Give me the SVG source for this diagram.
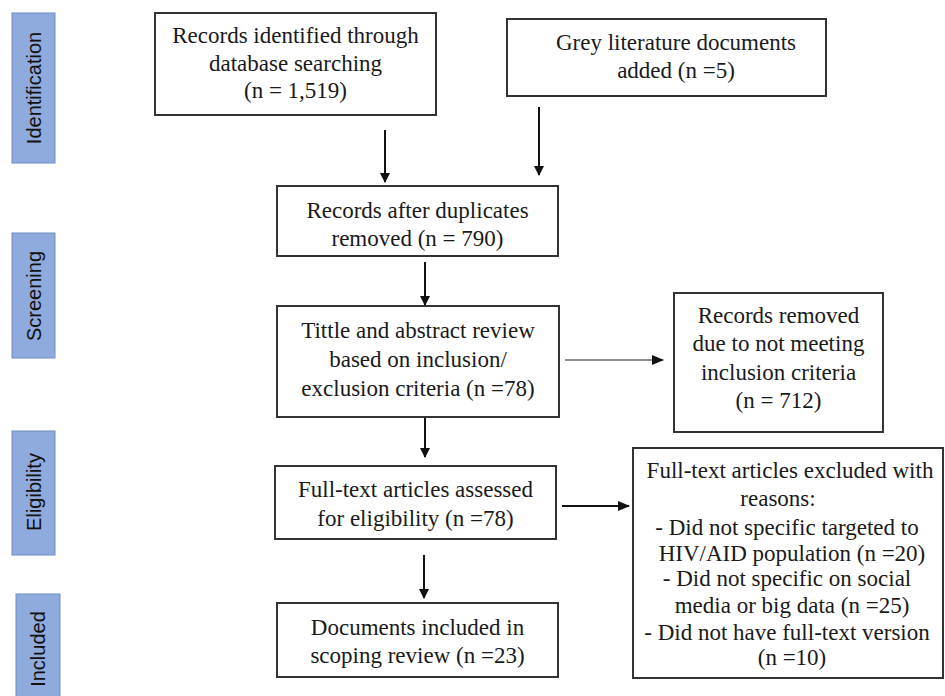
<svg xmlns="http://www.w3.org/2000/svg" width="945" height="696" viewBox="0 0 945 696">
<style>
.phase{fill:#8faadc;stroke:#6f8cc4;stroke-width:1}
.pt{font-family:"Liberation Sans",Arial,sans-serif;font-size:20px;fill:#111;text-anchor:middle;dominant-baseline:central}
.box{fill:#fff;stroke:#333;stroke-width:2}
.t{font-family:"Liberation Serif","Times New Roman",serif;font-size:23px;fill:#1a1a1a;text-anchor:middle}
.c{stroke:#111;stroke-width:2;fill:none}
.thin{stroke:#222;stroke-width:1.2;fill:none}
</style>
<defs>
<marker id="ah" markerWidth="10" markerHeight="10" refX="9" refY="5" orient="auto" markerUnits="userSpaceOnUse">
<path d="M0,0 L10,5 L0,10 Z" fill="#111"/>
</marker>
<marker id="ah2" markerWidth="12" markerHeight="12" refX="11" refY="6" orient="auto" markerUnits="userSpaceOnUse">
<path d="M0,1 L12,6 L0,11 Z" fill="#111"/>
</marker>
</defs>
<rect width="945" height="696" fill="#fff"/>

<g id="phase-identification"><rect class="phase" x="12" y="13" width="43" height="150"/><text class="pt" transform="translate(34,88) rotate(-90)">Identification</text></g>
<g id="phase-screening"><rect class="phase" x="12" y="233" width="43" height="125"/><text class="pt" transform="translate(34,296) rotate(-90)">Screening</text></g>
<g id="phase-eligibility"><rect class="phase" x="12" y="431" width="43" height="124"/><text class="pt" transform="translate(34,492) rotate(-90)">Eligibility</text></g>
<g id="phase-included"><rect class="phase" x="16" y="594" width="44" height="110"/><text class="pt" transform="translate(38,649) rotate(-90)">Included</text></g>

<g id="n-records">
<rect class="box" x="155" y="13" width="281" height="102"/>
<text class="t" x="295.5" y="43">Records identified through</text>
<text class="t" x="295.5" y="71">database searching</text>
<text class="t" x="295.5" y="98">(n = 1,519)</text>
</g>
<g id="n-grey">
<rect class="box" x="507" y="19" width="319" height="77"/>
<text class="t" x="676" y="50">Grey literature documents</text>
<text class="t" x="676" y="78">added (n =5)</text>
</g>
<g id="n-dedup">
<rect class="box" x="277" y="186" width="281" height="70"/>
<text class="t" x="417.5" y="218">Records after duplicates</text>
<text class="t" x="417.5" y="246">removed (n = 790)</text>
</g>
<g id="n-title">
<rect class="box" x="277" y="306" width="282" height="111"/>
<text class="t" x="418" y="338">Tittle and abstract review</text>
<text class="t" x="418" y="367">based on inclusion/</text>
<text class="t" x="418" y="396">exclusion criteria (n =78)</text>
</g>
<g id="n-removed">
<rect class="box" x="674" y="293" width="209" height="139"/>
<text class="t" x="778.5" y="323">Records removed</text>
<text class="t" x="778.5" y="351">due to not meeting</text>
<text class="t" x="778.5" y="380">inclusion criteria</text>
<text class="t" x="778.5" y="408">(n = 712)</text>
</g>
<g id="n-fulltext">
<rect class="box" x="275" y="466" width="281" height="73"/>
<text class="t" x="415.5" y="497">Full-text articles assessed</text>
<text class="t" x="415.5" y="526">for eligibility (n =78)</text>
</g>
<g id="n-excluded">
<rect class="box" x="633" y="448" width="310" height="230"/>
<text class="t" x="790" y="478">Full-text articles excluded with</text>
<text class="t" x="778" y="506">reasons:</text>
<text class="t" x="787" y="535">- Did not specific targeted to</text>
<text class="t" x="792" y="561">HIV/AID population (n =20)</text>
<text class="t" x="787" y="586">- Did not specific on social</text>
<text class="t" x="792" y="613">media or big data (n =25)</text>
<text class="t" x="787" y="640">- Did not have full-text version</text>
<text class="t" x="792" y="665">(n =10)</text>
</g>
<g id="n-included">
<rect class="box" x="277" y="603" width="281" height="74"/>
<text class="t" x="417.5" y="635">Documents included in</text>
<text class="t" x="417.5" y="663">scoping review (n =23)</text>
</g>

<g id="connectors">
<line class="c" x1="385" y1="130" x2="385" y2="182" marker-end="url(#ah)"/>
<line class="c" x1="539" y1="107" x2="539" y2="175" marker-end="url(#ah)"/>
<line class="c" x1="425" y1="262" x2="425" y2="305" marker-end="url(#ah)"/>
<line class="c" x1="425" y1="418" x2="425" y2="457" marker-end="url(#ah)"/>
<line class="thin" x1="565" y1="360" x2="663" y2="360" marker-end="url(#ah2)"/>
<line class="c" x1="562" y1="506" x2="629" y2="506" marker-end="url(#ah2)"/>
<line class="c" x1="424" y1="555" x2="424" y2="598" marker-end="url(#ah)"/>
</g>
</svg>
